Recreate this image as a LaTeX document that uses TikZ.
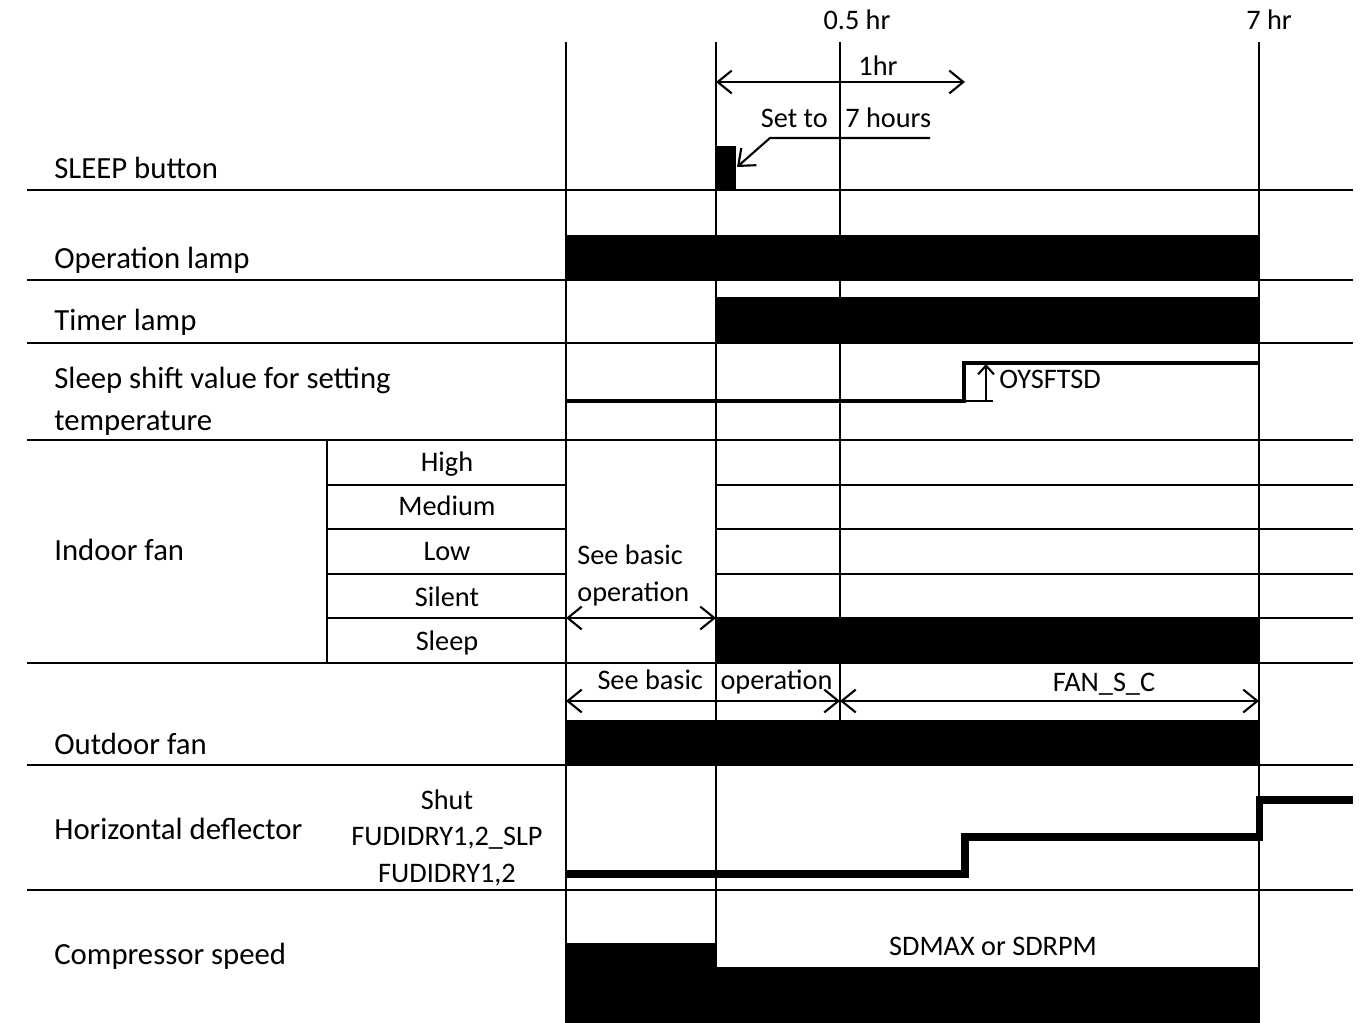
\documentclass[tikz,border=0pt]{standalone}
\usepackage{fontspec}
\setmainfont{Carlito}
\usetikzlibrary{arrows.meta}

\begin{document}
\begin{tikzpicture}[
    x=0.02cm, y=-0.02cm,
    >={Straight Barb[length=8pt,width=13pt]},
    rule/.style={black, line width=1.6pt},
    level/.style={black, line width=2.5pt},
    deflect/.style={black, line width=4pt},
    dim/.style={black, line width=1.2pt, <->},
    lbl/.style={font=\fontsize{16.1}{21.5}\selectfont, inner sep=0pt, anchor=base},
    rowlbl/.style={lbl, font=\fontsize{17.5}{24}\selectfont, anchor=base west, align=left}
]

\useasboundingbox (0,0) rectangle (1366,1023);

% ---------- row separators ----------
\foreach \y in {190,280,343,440,663,765,890}
  \draw[rule] (27,\y) -- (1353,\y);
\foreach \y in {485,529,574,618} {
  \draw[rule] (327,\y) -- (566,\y);
  \draw[rule] (716,\y) -- (1353,\y);
}

% ---------- time lines ----------
\draw[rule] (566,42) -- (566,1023);
\draw[rule] (716,42) -- (716,1023);
\draw[rule] (840,42) -- (840,765);
\draw[rule] (1259,42) -- (1259,1023);
\draw[rule] (327,440) -- (327,663);

% ---------- time labels ----------
\node[lbl] (halfhr) at (857,30) {0.5 hr};
\node[lbl] (sevenhr) at (1269,30) {7 hr};

% ---------- 1 hr span and setting ----------
\coordinate (span0) at (716,82);
\coordinate (span1) at (965,82);
\draw[dim] (span0) -- (span1);
\node[lbl] (onehr) at (878,76) {1hr};
\node[lbl] (setto) at (846,128) {Set to\hspace{10pt}7 hours};
\coordinate (lead0) at (930,138);
\coordinate (lead1) at (770,138);
\coordinate (press) at (737,167);
\draw[black, line width=1.2pt, ->] (lead0) -- (lead1) -- (press);

% ---------- row labels ----------
\node[rowlbl] (sleepbtn) at (54,179) {SLEEP button};
\node[rowlbl] (oplamp) at (54,269) {Operation lamp};
\node[rowlbl] (timerlamp) at (54,331) {Timer lamp};
\node[rowlbl] (shift) at (54,431) {Sleep shift value for setting\\temperature};
\node[rowlbl] (indoorfan) at (54,561) {Indoor fan};
\node[rowlbl] (outdoorfan) at (54,754) {Outdoor fan};
\node[rowlbl] (deflector) at (54,839) {Horizontal deflector};
\node[rowlbl] (compressor) at (54,964) {Compressor speed};

% ---------- fan steps ----------
\foreach \name/\y in {High/472,Medium/516,Low/561,Silent/606,Sleep/650}
  \node[lbl] (fan\name) at (447,\y) {\name};

% ---------- deflector positions ----------
\node[lbl] (shut) at (447,809) {Shut};
\node[lbl] (slp) at (447,845) {FUDIDRY1,2\_SLP};
\node[lbl] (dry) at (447,882) {FUDIDRY1,2};

% ---------- on bars ----------
\fill[black] (716,146) rectangle (736,190);
\fill[black] (566,235) rectangle (1259,280);
\fill[black] (716,297) rectangle (1259,343);
\fill[black] (716,618) rectangle (1259,663);
\fill[black] (566,720) rectangle (1259,765);
\fill[black] (566,943) -- (716,943) -- (716,967) -- (1259,967)
  -- (1259,1023) -- (566,1023) -- cycle;

% ---------- sleep shift ----------
\draw[level] (566,401) -- (964,401) -- (964,363) -- (1259,363);
\coordinate (oys0) at (986,401);
\coordinate (oys1) at (986,364);
\draw[black, line width=1.2pt] (964,401) -- (993,401);
\draw[black, line width=1.2pt, -{Straight Barb[length=5pt,width=9pt]}] (oys0) -- (oys1);
\node[lbl, anchor=base west] (oysftsd) at (999,389) {OYSFTSD};

% ---------- indoor fan basic ----------
\node[rowlbl, font=\fontsize{16.1}{21.5}\selectfont] (basicin) at (577,602) {See basic\\operation};
\coordinate (in0) at (566,618);
\coordinate (in1) at (716,618);
\draw[dim] (in0) -- (in1);

% ---------- outdoor fan ----------
\node[lbl] (basicout) at (715,689) {See basic\hspace{10pt}operation};
\node[lbl] (fansc) at (1104,691) {FAN\_S\_C};
\coordinate (out0) at (566,701);
\coordinate (out1) at (840,701);
\coordinate (out2) at (1259,701);
\draw[dim] (out0) -- (out1);
\draw[dim] (out1) -- (out2);

% ---------- deflector ----------
\draw[deflect] (566,874) -- (965,874) -- (965,837) -- (1259,837)
  -- (1259,800) -- (1353,800);

% ---------- compressor ----------
\node[lbl] (sdmax) at (993,955) {SDMAX or SDRPM};

\end{tikzpicture}
\end{document}
